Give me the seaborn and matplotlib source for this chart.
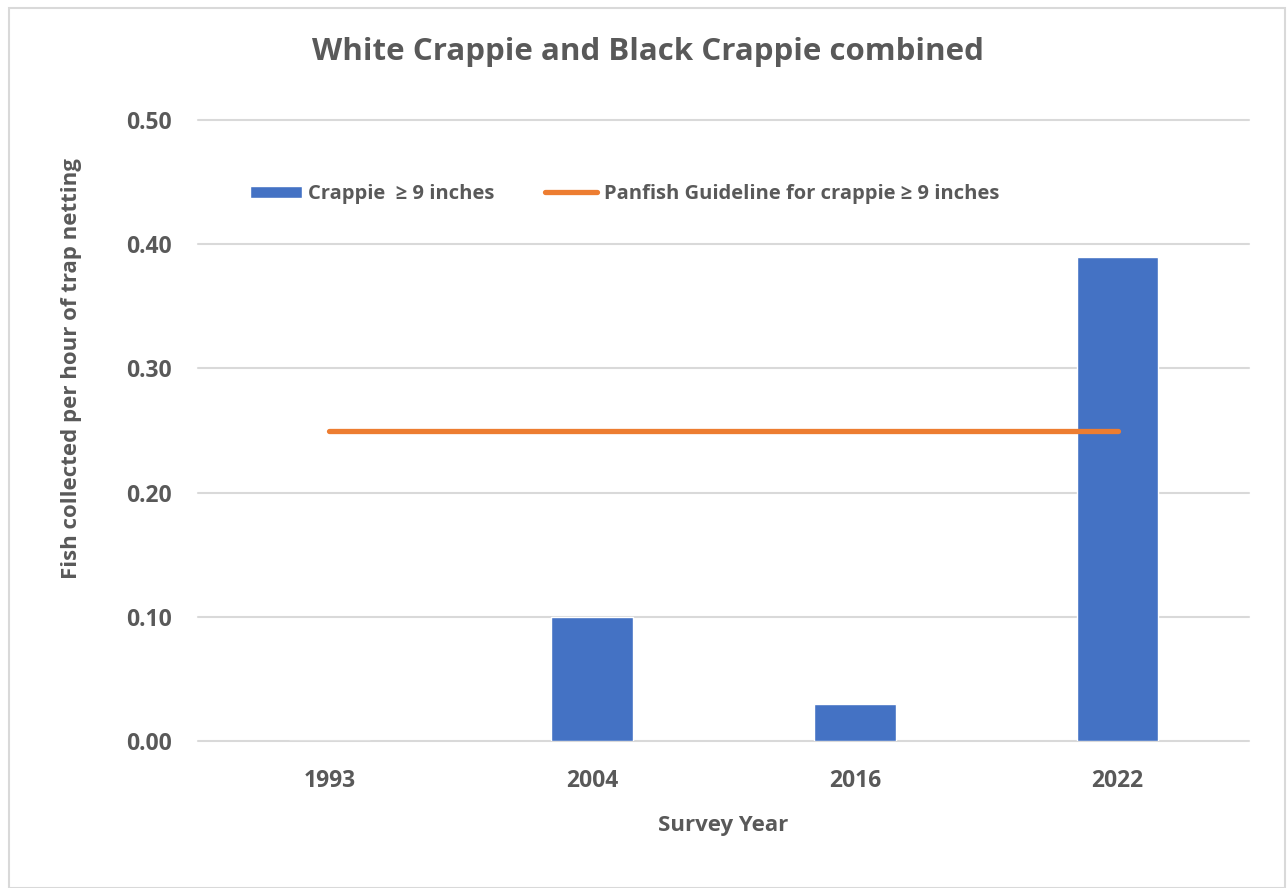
import matplotlib
matplotlib.use("Agg")
import matplotlib.pyplot as plt
import seaborn as sns
import numpy as np
import pandas as pd
from matplotlib.patches import Rectangle

years = ["1993", "2004", "2016", "2022"]
crappie = [0.0, 0.10, 0.03, 0.39]
guideline = [0.25, 0.25, 0.25, 0.25]
yticks = [0.0, 0.1, 0.2, 0.3, 0.4, 0.5]

title = "White Crappie and Black Crappie combined"
xlabel = "Survey Year"
ylabel = "Fish collected per hour of trap netting"
bar_label = "Crappie  \u2265 9 inches"
line_label = "Panfish Guideline for crappie \u2265 9 inches"

BLUE = "#4472C4"
ORANGE = "#ED7D31"
TXT = "#595959"
GRID = "#D9D9D9"

sns.set_theme(style="white")
plt.rcParams["font.family"] = ["Open Sans", "DejaVu Sans"]

W, H = 1287, 888
fig = plt.figure(figsize=(W / 100, H / 100), dpi=100)
ax = fig.add_axes([198 / W, 1 - 741 / H, (1249 - 198) / W, (741 - 120) / H])

df = pd.DataFrame({"year": years, "value": crappie})
sns.barplot(data=df, x="year", y="value", color=BLUE, width=0.31,
            saturation=1, ax=ax, label=bar_label, zorder=3)
xpos = np.arange(len(years))
ax.plot(xpos, guideline, color=ORANGE, lw=3.8, solid_capstyle="round",
        label=line_label, zorder=4)

ax.set_xlim(-0.5, len(years) - 0.5)
ax.set_ylim(0, 0.5)
ax.set_yticks(yticks)
ax.set_yticklabels([f"{v:.2f}" for v in yticks])
for v in yticks:
    ax.axhline(v, color=GRID, lw=1.5, zorder=1, clip_on=False)
for s in ax.spines.values():
    s.set_visible(False)
ax.tick_params(axis="both", length=0, colors=TXT, labelsize=16.5)
ax.tick_params(axis="y", pad=19)
ax.tick_params(axis="x", pad=20)
for lab in ax.get_xticklabels() + ax.get_yticklabels():
    lab.set_fontweight("bold")

ax.set_xlabel(xlabel, color=TXT, fontsize=16, fontweight="bold", labelpad=16)
ax.set_ylabel("")
fig.text(72 / W, 1 - 369 / H, ylabel, rotation=90, color=TXT, fontsize=16,
         fontweight="bold", ha="center", va="center")
fig.text(648 / W, 1 - 52 / H, title, color=TXT, fontsize=22.5,
         fontweight="bold", ha="center", va="center")

handles, labels = ax.get_legend_handles_labels()
order = [labels.index(bar_label), labels.index(line_label)]
leg = ax.legend([handles[i] for i in order], [labels[i] for i in order],
                loc="center left", bbox_to_anchor=(250 / W, 1 - 194 / H),
                bbox_transform=fig.transFigure, ncol=2, frameon=False,
                borderpad=0, borderaxespad=0, handlelength=2.6,
                handleheight=0.6, handletextpad=0.3, columnspacing=2.5,
                prop={"size": 14.5, "weight": "bold"})
for t in leg.get_texts():
    t.set_color(TXT)

fig.patches.append(Rectangle((9 / W, 0 / H), (1285 - 9) / W, (880) / H,
                             transform=fig.transFigure, fill=False,
                             edgecolor=GRID, lw=1.5))

fig.savefig("out.png", dpi=100)
